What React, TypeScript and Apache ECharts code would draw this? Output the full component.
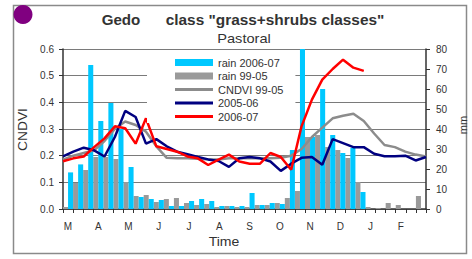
import React, { useEffect, useRef } from 'react';
import * as echarts from 'echarts';

const months = ['M', 'A', 'M', 'J', 'J', 'A', 'S', 'O', 'N', 'D', 'J', 'F'];
const dekads = months.flatMap((m, i) => [1, 2, 3].map((d) => `${m}${i}-${d}`));
const leftTicks = ['0.0', '0.1', '0.2', '0.3', '0.4', '0.5', '0.6'];

const rain0607 = [18.3, 22.3, 72, 44, 53, 40, 21, 6, 5, 4.5, 1.5, 1.5, 4, 5, 4, 1.5, 1.5, 1.5, 8, 2, 3, 2.5, 29.5, 81.5, 36, 60, 37, 28, 30.5, 8.5, 0, 0, 0, 0, 0, 0];
const rain9905 = [1, 13, 19.5, 26, 26, 25, 13.5, 6.5, 7, 3.5, 5, 5.5, 3, 2, 2.5, 1, 1.5, 1, 1, 2, 2, 3, 5.5, 9, 36, 37, 31, 29.5, 25.5, 13.5, 1, 0.5, 3, 2, 0, 6.5];
const cndvi9905 = [0.185, 0.2, 0.21, 0.22, 0.255, 0.3, 0.328, 0.315, 0.29, 0.235, 0.192, 0.19, 0.19, 0.188, 0.186, 0.186, 0.19, 0.19, 0.19, 0.19, 0.19, 0.192, 0.2, 0.225, 0.27, 0.305, 0.34, 0.35, 0.357, 0.33, 0.283, 0.24, 0.232, 0.215, 0.204, 0.197];
const cndvi0506 = [0.197, 0.215, 0.23, 0.22, 0.197, 0.27, 0.368, 0.345, 0.245, 0.262, 0.235, 0.215, 0.205, 0.195, 0.186, 0.18, 0.158, 0.19, 0.195, 0.19, 0.178, 0.143, 0.17, 0.192, 0.195, 0.166, 0.262, 0.247, 0.232, 0.232, 0.207, 0.198, 0.198, 0.2, 0.182, 0.195];
const cndvi0607 = [0.179, 0.19, 0.197, 0.232, 0.265, 0.31, 0.303, 0.245, 0.34, 0.235, 0.225, 0.215, 0.197, 0.19, 0.165, 0.185, 0.204, 0.178, 0.17, 0.17, 0.21, 0.195, 0.147, 0.31, 0.41, 0.485, 0.525, 0.56, 0.53, 0.518];

const FONT = 'Liberation Sans, Arial, sans-serif';
const TXT = '#333';
const LINE_ICON = 'path://M0,0h38v0.01h-38z M0,2h38v3h-38z M0,6.99h38v0.01h-38z';

export default function App() {
  const ref = useRef<HTMLDivElement>(null);
  useEffect(() => {
    if (!ref.current) return;
    const chart = echarts.init(ref.current, undefined, { renderer: 'svg' });
    chart.setOption({
      animation: false,
      backgroundColor: '#fff',
      textStyle: { fontFamily: FONT },
      grid: { left: 63, right: 46, top: 49, bottom: 50, containLabel: false },
      legend: {
        orient: 'vertical',
        left: 147,
        top: 51,
        padding: [6, 12, 1, 28],
        backgroundColor: '#fff',
        itemWidth: 38,
        itemHeight: 7,
        itemGap: 2.5,
        textStyle: { fontFamily: FONT, fontSize: 11, color: TXT },
        data: [
          { name: 'rain 2006-07', icon: 'rect' },
          { name: 'rain 99-05', icon: 'rect' },
          { name: 'CNDVI 99-05', icon: LINE_ICON },
          { name: '2005-06', icon: LINE_ICON },
          { name: '2006-07', icon: LINE_ICON },
        ],
      },
      xAxis: [
        {
          type: 'category',
          data: dekads,
          boundaryGap: true,
          axisLine: { lineStyle: { color: '#333', width: 1.5 } },
          axisTick: { show: true, interval: 0, length: 4, lineStyle: { color: '#333' } },
          axisLabel: {
            interval: 0,
            margin: 12,
            fontSize: 10,
            color: TXT,
            fontFamily: FONT,
            formatter: (_v: string, i: number) => (i % 3 === 0 ? months[i / 3] : ''),
          },
          splitLine: { show: false },
        },
        {
          type: 'category',
          data: dekads,
          boundaryGap: false,
          show: false,
        },
      ],
      yAxis: [
        {
          type: 'value',
          min: 0,
          max: 0.6,
          interval: 0.1,
          axisLine: { show: true, lineStyle: { color: '#333', width: 1.5 } },
          axisTick: { show: true, length: 4, lineStyle: { color: '#333' } },
          axisLabel: {
            margin: 9,
            fontSize: 10,
            color: TXT,
            fontFamily: FONT,
            formatter: (v: number) => leftTicks[Math.round(v * 10)],
          },
          splitLine: { show: true, lineStyle: { color: '#7a7a7a', width: 1 } },
        },
        {
          type: 'value',
          min: 0,
          max: 80,
          interval: 10,
          position: 'right',
          axisLine: { show: true, lineStyle: { color: '#333', width: 1.5 } },
          axisTick: { show: true, length: 4, lineStyle: { color: '#333' } },
          axisLabel: { margin: 10, fontSize: 10, color: TXT, fontFamily: FONT },
          splitLine: { show: false },
        },
      ],
      series: [
        {
          name: 'rain 99-05',
          type: 'bar',
          xAxisIndex: 0,
          yAxisIndex: 1,
          data: rain9905,
          barGap: '0%',
          barCategoryGap: '0%',
          itemStyle: { color: '#9a9a9a' },
        },
        {
          name: 'rain 2006-07',
          type: 'bar',
          xAxisIndex: 0,
          yAxisIndex: 1,
          data: rain0607,
          barGap: '0%',
          barCategoryGap: '0%',
          itemStyle: { color: '#00c8ff' },
        },
        {
          name: 'CNDVI 99-05',
          type: 'line',
          xAxisIndex: 1,
          yAxisIndex: 0,
          data: cndvi9905,
          symbol: 'none',
          lineStyle: { color: '#8c8c8c', width: 2.5 },
          itemStyle: { color: '#8c8c8c' },
        },
        {
          name: '2005-06',
          type: 'line',
          xAxisIndex: 1,
          yAxisIndex: 0,
          data: cndvi0506,
          symbol: 'none',
          lineStyle: { color: '#000080', width: 2.5 },
          itemStyle: { color: '#000080' },
        },
        {
          name: '2006-07',
          type: 'line',
          xAxisIndex: 1,
          yAxisIndex: 0,
          data: cndvi0607,
          symbol: 'none',
          lineStyle: { color: '#ff0000', width: 2.5 },
          itemStyle: { color: '#ff0000' },
        },
      ],
      graphic: [
        {
          type: 'rect',
          shape: { x: 13.5, y: 5.5, width: 453, height: 248 },
          style: { fill: 'none', stroke: '#8a8a8a', lineWidth: 1.5 },
          silent: true,
        },
        {
          type: 'circle',
          shape: { cx: 23, cy: 14.5, r: 9.5 },
          style: { fill: '#800080' },
        },
        {
          type: 'text',
          x: 121,
          y: 20.5,
          scaleX: 1.08,
          style: { text: 'Gedo', font: `bold 14px ${FONT}`, fill: TXT, textAlign: 'center', textVerticalAlign: 'middle' },
        },
        {
          type: 'text',
          x: 275,
          y: 20.5,
          scaleX: 1.1,
          style: { text: 'class "grass+shrubs classes"', font: `bold 14px ${FONT}`, fill: TXT, textAlign: 'center', textVerticalAlign: 'middle' },
        },
        {
          type: 'text',
          x: 244,
          y: 38,
          scaleX: 1.08,
          style: { text: 'Pastoral', font: `13.5px ${FONT}`, fill: TXT, textAlign: 'center', textVerticalAlign: 'middle' },
        },
        {
          type: 'text',
          x: 224,
          y: 241.5,
          scaleX: 1.08,
          style: { text: 'Time', font: `13px ${FONT}`, fill: TXT, textAlign: 'center', textVerticalAlign: 'middle' },
        },
        {
          type: 'text',
          x: 23,
          y: 129.5,
          rotation: Math.PI / 2,
          scaleX: 1.15,
          style: { text: 'CNDVI', font: `12px ${FONT}`, fill: TXT, textAlign: 'center', textVerticalAlign: 'middle' },
        },
        {
          type: 'text',
          x: 463,
          y: 125,
          rotation: Math.PI / 2,
          style: { text: 'mm', font: `11px ${FONT}`, fill: TXT, textAlign: 'center', textVerticalAlign: 'middle' },
        },
      ],
    });
    return () => chart.dispose();
  }, []);
  return <div ref={ref} style={{ position: 'fixed', left: 0, top: 0, width: 472, height: 259 }} />;
}
